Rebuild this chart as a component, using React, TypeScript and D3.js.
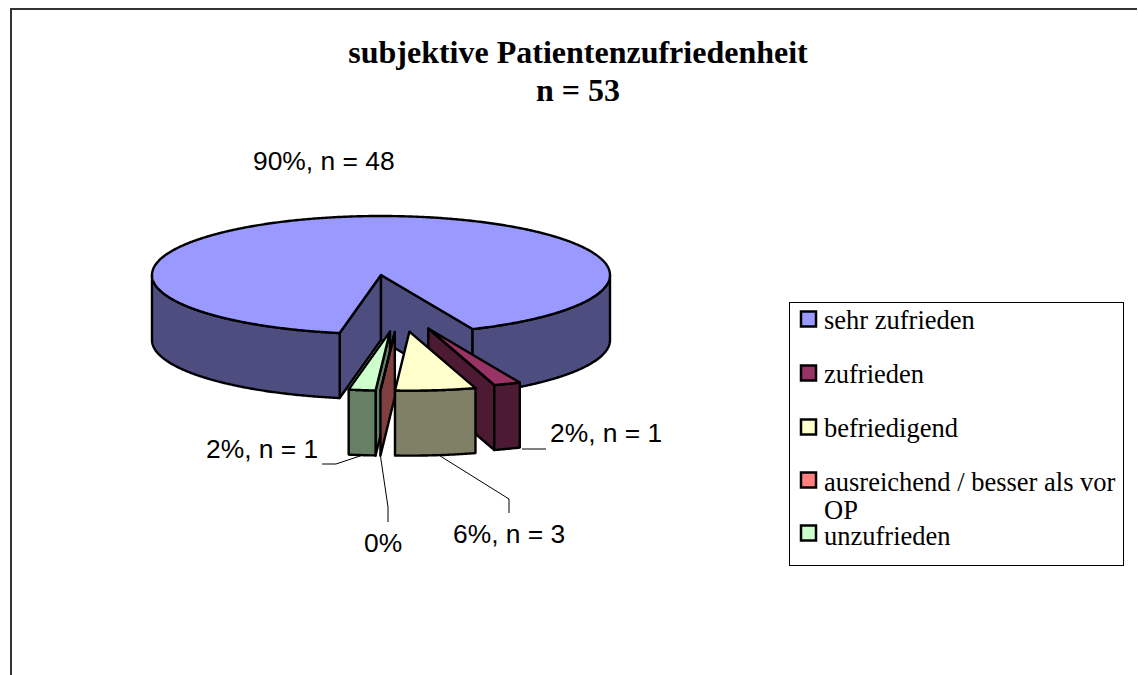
import React from "react";
import * as d3 from "d3";

const categories = ["sehr zufrieden", "zufrieden", "befriedigend", "ausreichend / besser als vor OP", "unzufrieden"];
const counts = [48, 1, 3, 0, 1];
const percentLabels = ["90%, n = 48", "2%, n = 1", "6%, n = 3", "0%", "2%, n = 1"];
const topColors = ["#9999FF", "#993366", "#FFFFCC", "#FF8080", "#CCFFCC"];
const wallColors = ["#4D4D80", "#4D1A33", "#808066", "#804040", "#668066"];

const W = 1138, H = 675;
const rx = 229, ry = 59, depth = 65;
const rad = Math.PI / 180;
const startDeg = 10.4;

const mainCentre = { x: 381, y: 275 };
const explode = { cx: 400, cy: 275, ex: 82, ey: 57 };
const drawOrder = [0, 1, 2, 4, 3];

const pie = d3.pie<number>().sort(null).startAngle(startDeg * rad).endAngle(startDeg * rad + 2 * Math.PI);
const arcs = pie(counts);

const rim = (c: { x: number; y: number }, t: number, dy = 0): [number, number] => [
  c.x - rx * Math.sin(t),
  c.y + ry * Math.cos(t) + dy,
];
const line = d3.line();
const steps = (a: number, b: number) => {
  const n = Math.max(1, Math.ceil(Math.abs(b - a) / (0.5 * rad)));
  return d3.range(n + 1).map((i) => a + ((b - a) * i) / n);
};

function visibleRanges(a: number, b: number): [number, number][] {
  const out: [number, number][] = [];
  for (let k = -1; k <= 2; k++) {
    const lo = Math.max(a, -Math.PI / 2 + 2 * Math.PI * k);
    const hi = Math.min(b, Math.PI / 2 + 2 * Math.PI * k);
    if (hi > lo) out.push([lo, hi]);
  }
  return out;
}

function Slice({ i }: { i: number }) {
  const { startAngle: a, endAngle: b } = arcs[i];
  const mid = (a + b) / 2;
  const c = i === 0
    ? mainCentre
    : { x: explode.cx - explode.ex * Math.sin(mid), y: explode.cy + explode.ey * Math.cos(mid) };
  const common = { stroke: "#000", strokeWidth: 2.4, strokeLinejoin: "round" as const };
  const radial = (t: number) => {
    const p = rim(c, t);
    return line([[c.x, c.y], p, [p[0], p[1] + depth], [c.x, c.y + depth]]) + "Z";
  };
  const top = line([[c.x, c.y], ...steps(a, b).map((t) => rim(c, t))]) + "Z";
  return (
    <g>
      {Math.sin(a) > 1e-6 && <path d={radial(a)} fill={wallColors[i]} {...common} />}
      {Math.sin(b) < -1e-6 && <path d={radial(b)} fill={wallColors[i]} {...common} />}
      {visibleRanges(a, b).map(([lo, hi], j) => {
        const upper = steps(lo, hi).map((t) => rim(c, t));
        const lower = steps(hi, lo).map((t) => rim(c, t, depth));
        return <path key={j} d={line([...upper, ...lower]) + "Z"} fill={wallColors[i]} {...common} />;
      })}
      <path d={top} fill={topColors[i]} {...common} />
    </g>
  );
}

const leaders: { pts: [number, number][] }[] = [
  { pts: [[363, 455], [336, 464], [322, 464]] },
  { pts: [[380, 453], [388, 507], [388, 522]] },
  { pts: [[437, 454], [509, 499], [509, 513]] },
  { pts: [[522, 449], [546, 449]] },
];
const labelPos = [
  { i: 0, x: 253, y: 170 },
  { i: 1, x: 550, y: 442 },
  { i: 2, x: 453, y: 543 },
  { i: 3, x: 364, y: 552 },
  { i: 4, x: 206, y: 458 },
];
const legendRows = [
  { i: 0, sw: 319, base: [329] },
  { i: 1, sw: 373, base: [383] },
  { i: 2, sw: 427, base: [437] },
  { i: 3, sw: 480, base: [491, 519] },
  { i: 4, sw: 533, base: [545] },
];
const legendLines = (s: string) => (s.endsWith(" OP") ? [s.slice(0, -3), "OP"] : [s]);

const serif = "'Liberation Serif', serif";
const sans = "'Liberation Sans', sans-serif";

export default function App() {
  return (
    <svg width={W} height={H} viewBox={`0 0 ${W} ${H}`} style={{ position: "absolute", left: 0, top: 0, background: "#fff" }}>
      <path d={`M11 ${H}V9H${W - 1}`} fill="none" stroke="#333" strokeWidth={2} />
      <g fontFamily={serif} fontWeight="bold" fontSize={32} textAnchor="middle" fill="#000">
        <text x={578} y={63}>subjektive Patientenzufriedenheit</text>
        <text x={578} y={101}>n = 53</text>
      </g>
      {drawOrder.map((i) => <Slice key={i} i={i} />)}
      {leaders.map((l, i) => (
        <path key={i} d={line(l.pts) as string} fill="none" stroke="#000" strokeWidth={1} />
      ))}
      <g fontFamily={sans} fontSize={26.4} fill="#000">
        {labelPos.map((l) => <text key={l.i} x={l.x} y={l.y}>{percentLabels[l.i]}</text>)}
      </g>
      <rect x={789.5} y={302.5} width={334} height={263} fill="#fff" stroke="#000" strokeWidth={1} />
      {legendRows.map((r) => (
        <g key={r.i}>
          <rect x={801} y={r.sw - 7.5} width={15} height={15} fill={topColors[r.i]} stroke="#000" strokeWidth={2.5} />
          {legendLines(categories[r.i]).map((t, j) => (
            <text key={j} x={824} y={r.base[j]} fontFamily={serif} fontSize={26.5} fill="#000">{t}</text>
          ))}
        </g>
      ))}
    </svg>
  );
}
